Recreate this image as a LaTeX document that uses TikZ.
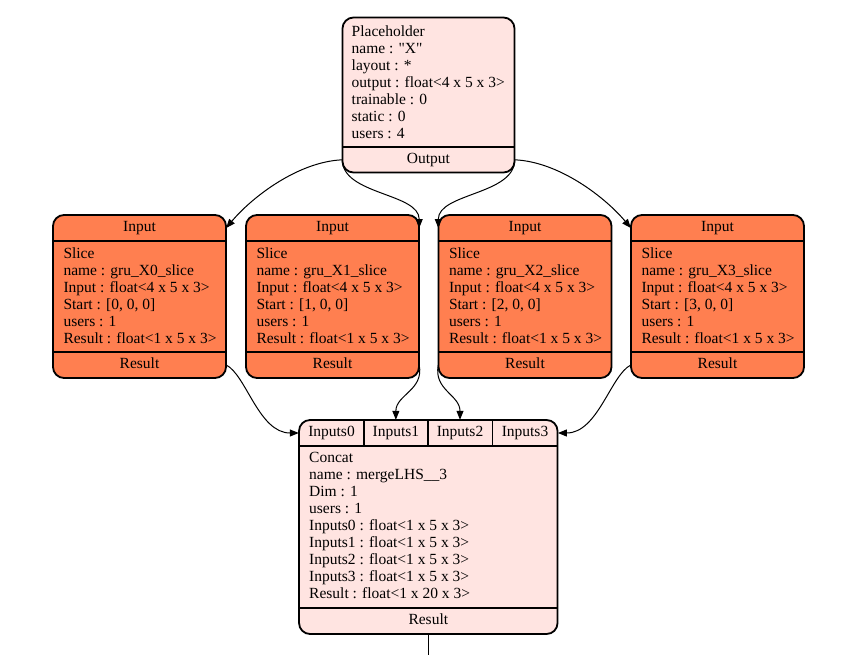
\documentclass[tikz,border=0pt]{standalone}
\usepackage{fontspec}
\setmainfont{Liberation Serif}[Ligatures=TeXOff]
\usepackage{xcolor}
\usetikzlibrary{arrows.meta, positioning, calc}

\definecolor{phpink}{RGB}{255,228,225}
\definecolor{slicecoral}{RGB}{255,127,80}

\tikzset{
  opbox/.style={draw, line width=1.8pt, rounded corners=11pt, inner sep=0pt},
  portlbl/.style={inner sep=0pt, minimum height=26pt, text height=10.5pt, text depth=3.5pt},
  fieldtxt/.style={anchor=north west, align=left, inner sep=0pt},
  divider/.style={line width=1.8pt},
  flow/.style={->, line width=1pt}
}

\begin{document}
\begin{tikzpicture}[
    x=1pt, y=-1pt,
    >={Triangle[length=9pt,width=7pt]},
    font=\fontsize{15.5}{17}\selectfont
]
\useasboundingbox (0,0) rectangle (861,655);

% Placeholder
\node[opbox, fill=phpink, minimum width=172pt, minimum height=155pt] (ph) at (428.5,95) {};
\node[fieldtxt] (ph-txt) at (351.5,25.6)
  {Placeholder\\name : "X"\\layout : *\\output : float<4 x 5 x 3>\\trainable : 0\\static : 0\\users : 4};
\node[portlbl, minimum width=172pt, minimum height=25.5pt] (ph-out) at (428.5,159.8) {Output};
\draw[divider] (ph-out.north west) -- (ph-out.north east);

% Slice 0
\node[opbox, fill=slicecoral, minimum width=173pt, minimum height=163pt] (s0) at (139.5,296.5) {};
\node[portlbl, minimum width=173pt] (s0-in) at (139.5,228) {Input};
\node[fieldtxt] (s0-txt) at (63.3,247.5)
  {Slice\\name : gru\_X0\_slice\\Input : float<4 x 5 x 3>\\Start : [0, 0, 0]\\users : 1\\Result : float<1 x 5 x 3>};
\node[portlbl, minimum width=173pt] (s0-res) at (139.5,365) {Result};
\draw[divider] (s0-in.south west) -- (s0-in.south east);
\draw[divider] (s0-res.north west) -- (s0-res.north east);

% Slice 1
\node[opbox, fill=slicecoral, minimum width=173pt, minimum height=163pt] (s1) at (332.5,296.5) {};
\node[portlbl, minimum width=173pt] (s1-in) at (332.5,228) {Input};
\node[fieldtxt] (s1-txt) at (256.3,247.5)
  {Slice\\name : gru\_X1\_slice\\Input : float<4 x 5 x 3>\\Start : [1, 0, 0]\\users : 1\\Result : float<1 x 5 x 3>};
\node[portlbl, minimum width=173pt] (s1-res) at (332.5,365) {Result};
\draw[divider] (s1-in.south west) -- (s1-in.south east);
\draw[divider] (s1-res.north west) -- (s1-res.north east);

% Slice 2
\node[opbox, fill=slicecoral, minimum width=173pt, minimum height=163pt] (s2) at (525,296.5) {};
\node[portlbl, minimum width=173pt] (s2-in) at (525,228) {Input};
\node[fieldtxt] (s2-txt) at (448.8,247.5)
  {Slice\\name : gru\_X2\_slice\\Input : float<4 x 5 x 3>\\Start : [2, 0, 0]\\users : 1\\Result : float<1 x 5 x 3>};
\node[portlbl, minimum width=173pt] (s2-res) at (525,365) {Result};
\draw[divider] (s2-in.south west) -- (s2-in.south east);
\draw[divider] (s2-res.north west) -- (s2-res.north east);

% Slice 3
\node[opbox, fill=slicecoral, minimum width=173pt, minimum height=163pt] (s3) at (717.5,296.5) {};
\node[portlbl, minimum width=173pt] (s3-in) at (717.5,228) {Input};
\node[fieldtxt] (s3-txt) at (641.3,247.5)
  {Slice\\name : gru\_X3\_slice\\Input : float<4 x 5 x 3>\\Start : [3, 0, 0]\\users : 1\\Result : float<1 x 5 x 3>};
\node[portlbl, minimum width=173pt] (s3-res) at (717.5,365) {Result};
\draw[divider] (s3-in.south west) -- (s3-in.south east);
\draw[divider] (s3-res.north west) -- (s3-res.north east);

% Concat
\node[opbox, fill=phpink, minimum width=258.5pt, minimum height=214pt] (cc) at (428.3,527) {};
\node[portlbl, minimum width=65pt] (c-in0) at (331.5,433) {Inputs0};
\node[portlbl, minimum width=63.7pt] (c-in1) at (395.85,433) {Inputs1};
\node[portlbl, minimum width=64.6pt] (c-in2) at (460,433) {Inputs2};
\node[portlbl, minimum width=65.4pt] (c-in3) at (525,433) {Inputs3};
\node[fieldtxt] (c-txt) at (309,452.5)
  {Concat\\name : mergeLHS\_\_3\\Dim : 1\\users : 1\\Inputs0 : float<1 x 5 x 3>\\Inputs1 : float<1 x 5 x 3>\\Inputs2 : float<1 x 5 x 3>\\Inputs3 : float<1 x 5 x 3>\\Result : float<1 x 20 x 3>};
\node[portlbl, minimum width=258.5pt] (c-res) at (428.3,621) {Result};
\draw[divider] (c-in0.south west) -- (c-in3.south east);
\draw[divider] (c-in0.north east) -- (c-in0.south east);
\draw[divider] (c-in1.north east) -- (c-in1.south east);
\draw[divider] (c-in2.north east) -- (c-in2.south east);
\draw[divider] (c-res.north west) -- (c-res.north east);

% Edges from the placeholder
\draw[flow] (ph-out.west) .. controls +(-45,2) and +(25,-30) .. (s0-in.east);
\draw[flow] (ph-out.west) .. controls +(0,35) and +(0,-35) .. (s1-in.east);
\draw[flow] (ph-out.east) .. controls +(0,35) and +(0,-35) .. (s2-in.west);
\draw[flow] (ph-out.east) .. controls +(45,2) and +(-25,-30) .. (s3-in.west);

% Edges into concat
\draw[flow] (s0-res.east) .. controls +(20,10) and +(-40,0) .. (c-in0.west);
\draw[flow] (s1-res.east) .. controls +(5,25) and +(0,-25) .. (c-in1.north);
\draw[flow] (s2-res.west) .. controls +(-5,25) and +(0,-25) .. (c-in2.north);
\draw[flow] (s3-res.west) .. controls +(-20,10) and +(40,0) .. (c-in3.east);

% Output of concat
\coordinate (c-out) at (428.3,655);
\draw[line width=1pt] (c-res.south) -- (c-out);

\end{tikzpicture}
\end{document}
